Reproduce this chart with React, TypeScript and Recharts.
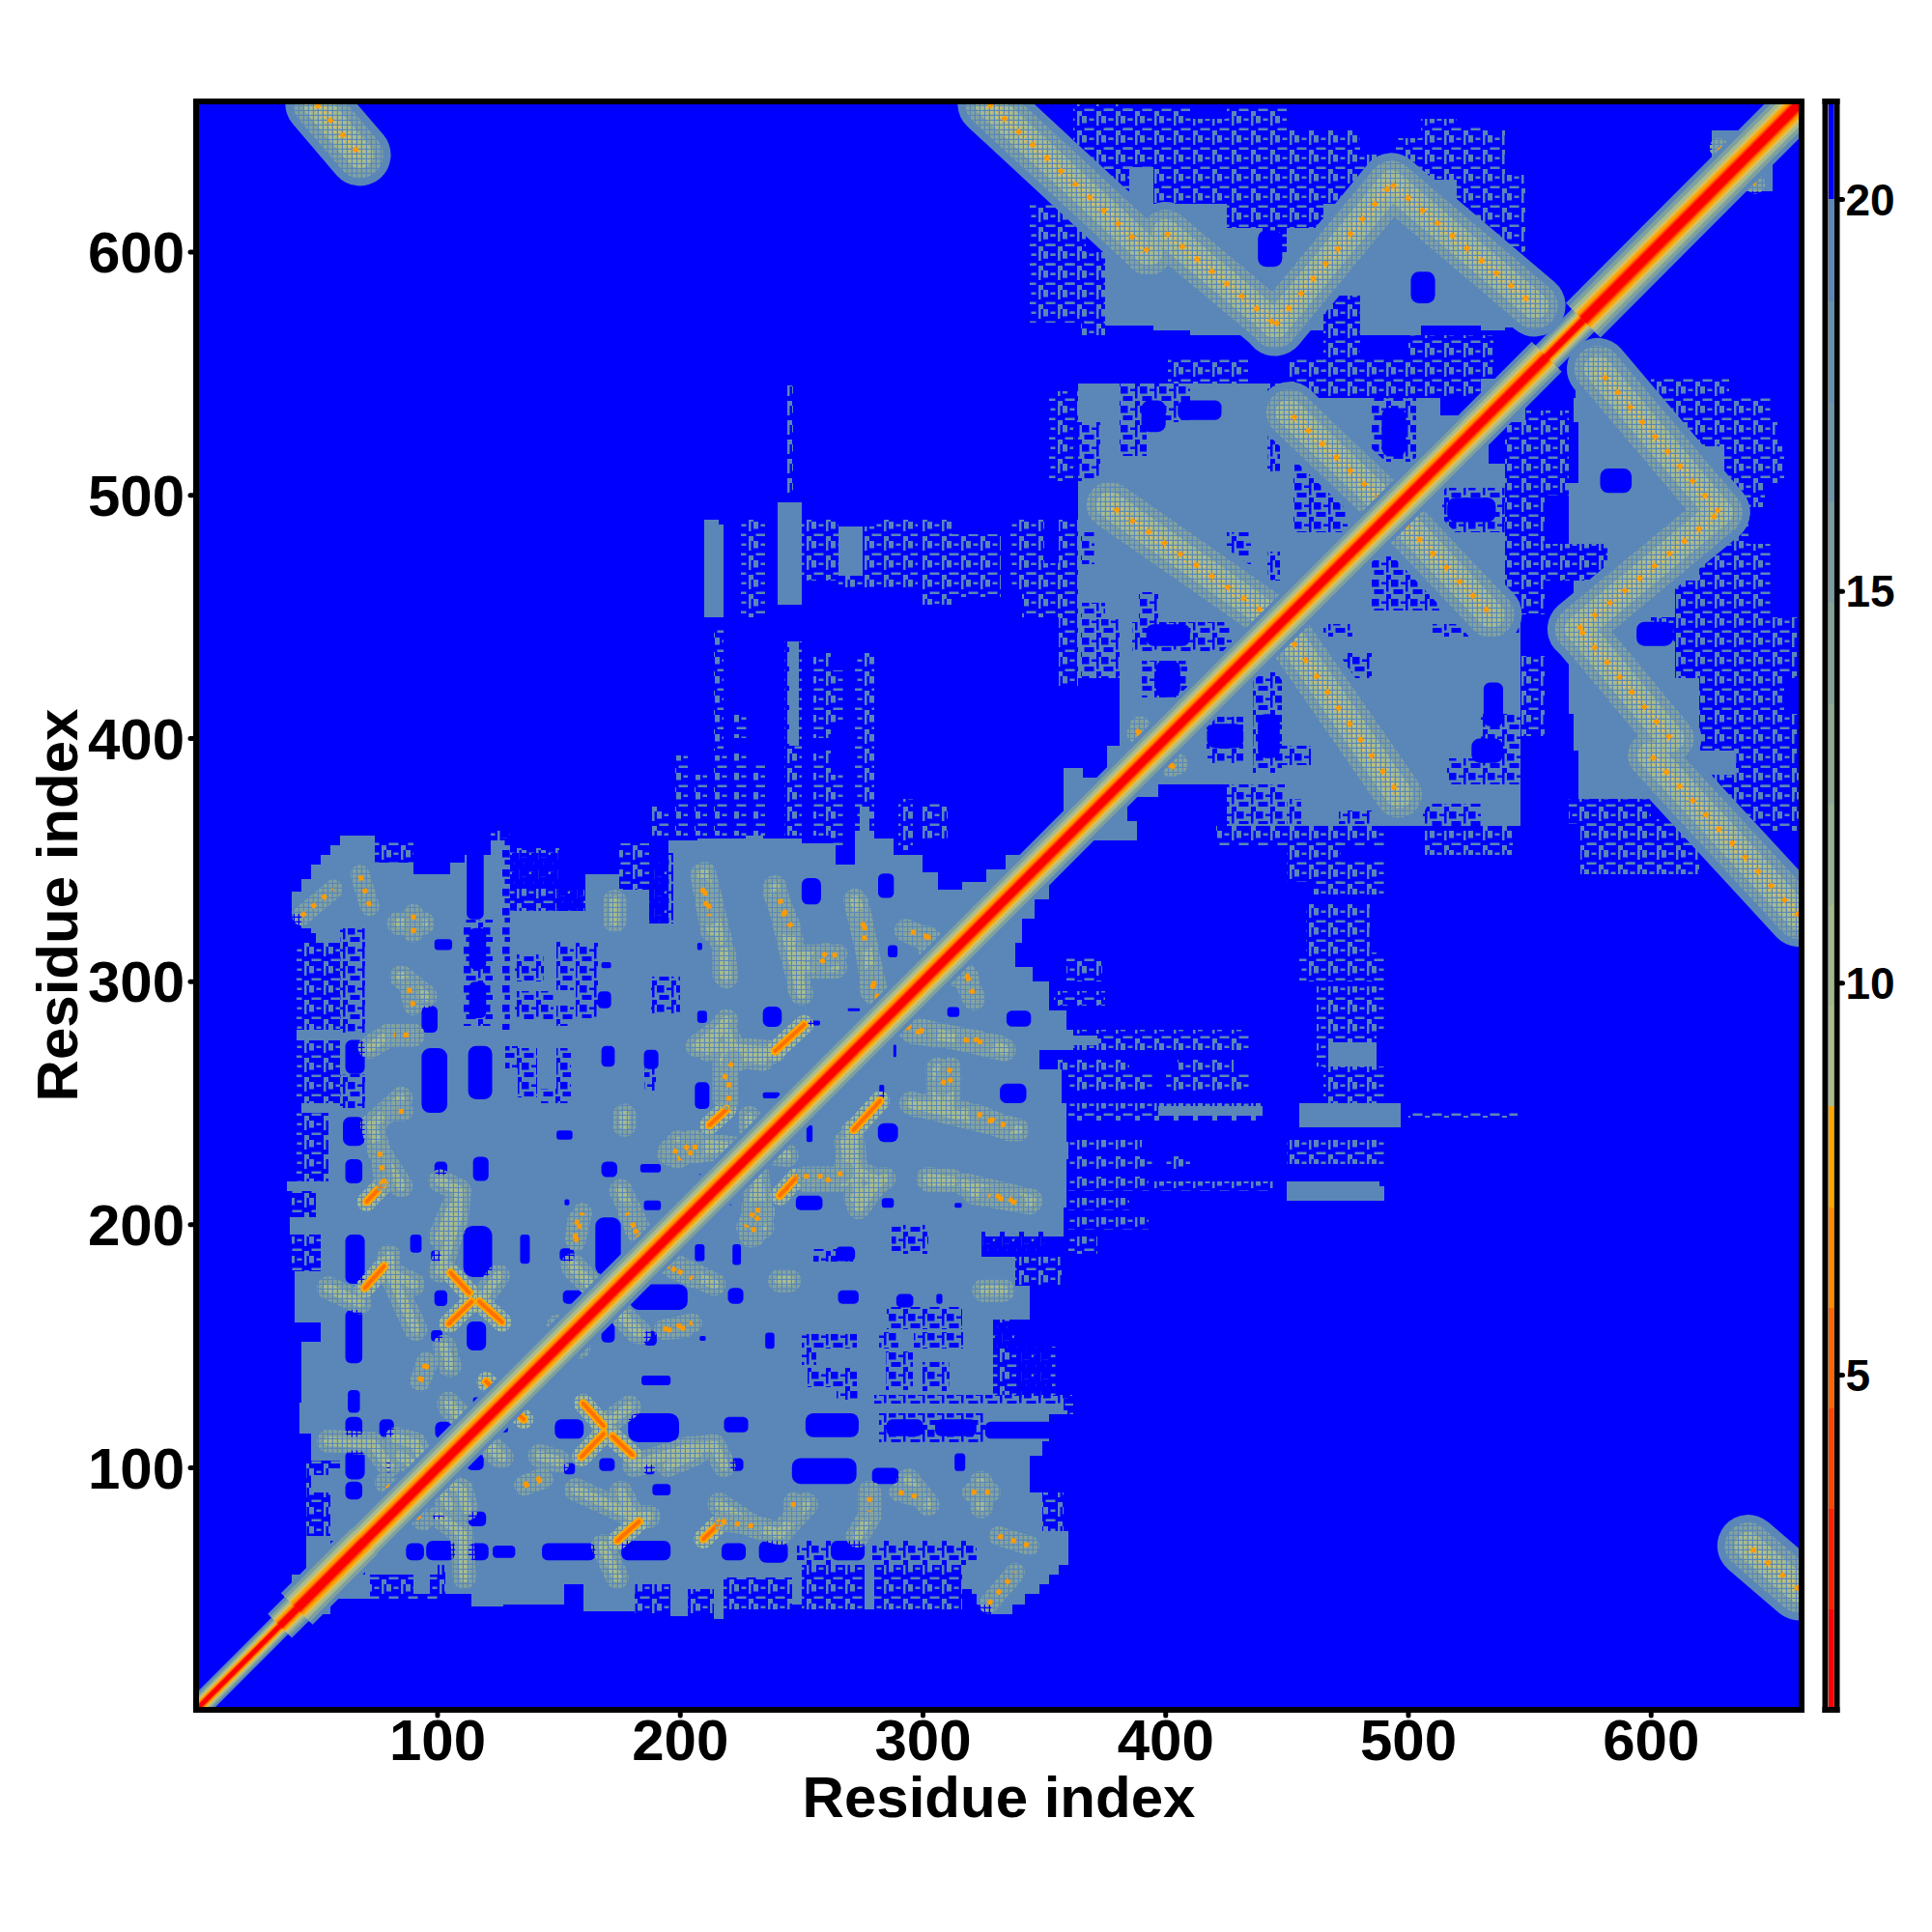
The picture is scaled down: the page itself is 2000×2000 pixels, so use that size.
import React from "react";
import { ScatterChart, Scatter, XAxis, YAxis } from "recharts";

// ---- axis labels and ticks ----
const axisTitle = "Residue index";
const residueTicks = [100, 200, 300, 400, 500, 600];
const residueDomain = [0.5, 662];
const scaleTicks = [5, 10, 15, 20];
const scaleDomain = [0.73, 21.25];

// ---- colour scale: one step per band, low distance first ----
const bandEdges = [0.73, 2.01, 3.29, 4.58, 5.86, 7.14, 8.43, 9.71, 11, 12.28, 13.56, 14.85, 16.13, 17.41, 18.7, 20, 21.25];
const bandColors = ["#ff0000", "#ff2200", "#ff4500", "#ff6600", "#ff8c00", "#ffa500", "#a9bd8c", "#a1b88c", "#98b28f", "#8eaa92", "#84a396", "#7a9c9e", "#6e94a8", "#6490b0", "#5a87b8", "#0000ff"];

// ---- contact map, lower-right triangle in residues: [x0, x1, y0, y1] ----
const solidRuns = [
  [45, 56, 40, 50], [50, 72, 46, 56], [70, 100, 56, 60], [90, 97, 48, 60], [103, 114, 48, 60], [114, 127, 43, 60], [127, 152, 44, 60],
  [152, 160, 52, 60], [160, 181, 41, 60], [181, 196, 52, 60], [196, 203, 39, 60], [203, 214, 50, 60], [214, 218, 38, 60], [218, 246, 55, 60],
  [246, 250, 44, 60], [276, 280, 42, 60], [316, 330, 50, 60],
  [328, 337, 40, 44], [322, 342, 44, 48], [320, 348, 48, 52], [318, 352, 52, 56], [316, 356, 56, 60], [322, 358, 60, 66], [320, 360, 66, 74],
  [60, 360, 60, 74], [70, 349, 74, 90], [88, 344, 90, 105], [100, 349, 105, 111], [106, 352, 111, 122], [118, 358, 122, 130],
  [125, 329, 130, 161], [155, 344, 161, 175], [170, 338, 175, 187], [180, 324, 187, 195], [190, 358, 195, 207],
  [205, 359, 207, 227], [225, 360, 227, 234], [232, 359, 234, 250], [248, 357, 250, 264], [262, 348, 264, 272], [270, 362, 272, 280],
  [278, 359, 280, 288], [286, 352, 288, 300], [298, 345, 300, 306], [304, 338, 306, 316], [314, 341, 316, 326], [324, 346, 326, 334], [332, 352, 334, 345],
  [365, 388, 358, 366], [365, 384, 366, 376], [376, 397, 376, 381], [381, 413, 381, 390], [390, 436, 390, 400],
  [425, 546, 364, 381], [381, 546, 381, 440], [440, 546, 440, 451], [451, 540, 451, 513], [513, 533, 513, 530], [530, 548, 530, 545],
  [571, 588, 548, 556], [569, 594, 540, 548], [568, 600, 530, 540], [570, 615, 520, 530], [570, 630, 505, 520], [566, 632, 495, 505],
  [566, 625, 480, 495], [582, 620, 465, 480], [568, 610, 450, 465], [568, 600, 440, 450], [566, 610, 425, 440], [566, 620, 410, 425],
  [568, 620, 395, 410], [570, 635, 385, 395], [570, 625, 375, 385], [630, 650, 625, 640],
  [455, 497, 240, 250], [450, 490, 210, 216], [467, 487, 265, 275], [397, 440, 245, 249], [450, 488, 216, 218], [360, 372, 274, 278],
];
const speckleRuns = [
  [72, 103, 46, 60], [181, 218, 40, 52], [218, 246, 42, 55], [250, 276, 42, 60], [280, 316, 42, 60],
  [329, 338, 129, 161], [338, 355, 129, 150], [338, 357, 175, 187], [324, 350, 187, 195], [349, 358, 74, 90], [352, 362, 122, 130],
  [359, 374, 300, 310], [354, 375, 290, 296], [360, 435, 272, 280], [355, 385, 262, 268], [405, 428, 262, 268], [360, 395, 255, 262], [400, 435, 255, 262],
  [360, 440, 243, 250], [360, 390, 230, 235], [360, 395, 222, 228], [400, 410, 222, 228], [360, 393, 214, 220], [395, 445, 214, 218], [360, 385, 206, 211],
  [360, 393, 198, 203], [360, 372, 188, 195],
  [458, 484, 312, 332], [455, 490, 300, 312], [462, 490, 280, 298], [462, 487, 265, 280], [465, 490, 250, 265], [450, 490, 225, 235], [500, 545, 244, 246.5],
  [450, 472, 341, 366], [461, 490, 336, 350], [506, 543, 352, 364], [421, 490, 356, 364], [540, 556, 451, 500], [540, 566, 500, 535], [546, 556, 401, 434],
  [600, 632, 540, 548], [600, 650, 530, 540], [615, 652, 520, 530], [630, 655, 505, 520], [632, 647, 495, 505], [625, 640, 480, 495], [542, 582, 465, 480],
  [620, 650, 465, 480], [610, 650, 450, 465], [600, 660, 440, 450], [610, 660, 425, 440], [620, 655, 410, 425], [620, 660, 395, 410], [635, 660, 385, 395],
  [625, 660, 375, 385], [566, 600, 365, 375], [574, 600, 355, 365], [590, 610, 345, 355], [571, 620, 344, 367], [630, 662, 362, 387],
];
const holes = [
  [206, 210, 185, 192], [221.5, 225, 183.5, 192], [264, 272, 185, 191], [179.4, 203, 165, 175.5], [219.6, 226, 167.5, 174], [265, 273.5, 167.5, 173],
  [289, 296, 166, 171.5], [305.5, 308, 167.5, 171.5], [185, 190.3, 150.3, 156.3], [167.5, 173, 151.6, 159.6], [208, 210.5, 152.3, 154.3], [235, 238.8, 149, 155.6],
  [184, 196, 134, 138], [178.5, 199.5, 110.6, 122.5], [218, 228, 114.6, 121], [251.6, 273.5, 112.6, 122.5], [148.3, 160.2, 112, 120], [126.4, 129, 114.6, 118.5],
  [152, 156.6, 97.3, 102], [166.6, 173, 98.7, 104], [185, 189.4, 97.3, 101.3], [220.5, 226, 98.7, 104], [246, 272.6, 93.4, 104], [279, 290, 93.4, 100],
  [313, 317.4, 98.7, 106], [188.5, 196, 88.7, 93.4], [112.7, 120, 76, 82], [98, 102.6, 79, 80.5], [112, 119, 99, 106], [285, 300, 113, 120], [305, 322, 113, 120], [325.6, 365, 112, 119],
  [87, 94.4, 62, 69], [95.3, 107.2, 62, 70], [112.7, 121, 62, 69], [122.7, 132, 63, 68], [143, 165, 62, 69], [175.7, 196, 62, 70], [217, 227, 62, 69],
  [232.4, 244.3, 61, 70], [262, 276, 62, 70],
  [331.7, 342.6, 250, 258], [281.4, 289.7, 234, 241.8], [252, 254.5, 234, 241], [334.4, 344.5, 281.5, 288], [310, 315, 285.5, 289.5], [282, 284, 252, 257.6],
  [287.8, 289, 269, 274], [247.6, 258.6, 206, 212], [283, 288, 207, 211], [220, 221, 208, 211], [313, 316, 207, 209],
  [417, 432, 396, 406], [438, 447, 392, 410], [526, 539, 390, 400], [531, 539, 405, 423],
  [516, 536, 489, 499], [579, 592, 501, 511], [594, 609, 438, 448],
];
const holeSpeckle = [
  [287, 302, 188, 200], [324, 353, 187, 197], [285, 316, 157, 166], [250, 272.6, 149, 155], [250, 256, 142.4, 149], [252.5, 272.6, 133, 141], [264.4, 273.5, 128, 133],
  [281.7, 290, 149, 156], [296.3, 316.4, 149, 156], [284.5, 296, 132, 147.7], [300, 311, 131.8, 143.7], [280, 364, 126.5, 130], [329, 353, 149, 160], [338.4, 353, 129, 149],
  [344, 365, 90, 105], [255, 271, 185, 190], [418.5, 449, 365, 381], [506, 530, 362, 373], [485, 512.7, 452.5, 475], [471.6, 485, 425, 435], [531, 556, 442, 451],
  [248, 262, 60, 70], [279, 322, 60, 70], [417, 432, 390, 409], [436, 448, 386, 427], [448, 460, 389, 397], [450, 456, 365, 375], [471.5, 485, 365, 370.5],
  [465, 477, 442, 447], [510, 524.6, 442, 447], [516, 546, 381, 392], [530, 546, 392, 410], [514, 540, 485, 503], [281.7, 325.6, 110.6, 122.5],
];

// ---- ridges of close residues: [x0, y0, x1, y1] ----
const strandRidges = [
  [327, 661, 393, 600], [400, 608, 445, 570.5], [445, 570, 493, 628], [493, 628, 552, 578], [448, 446, 496, 377], [493, 494, 534, 451], [50, 661, 68, 640],
];
const blockHalos = [
  [104.5, 126.5, 124.6, 105.3], [155.6, 183.5, 182, 156], [194, 185, 214, 175.5], [168, 117, 179, 125], [102.7, 150, 105, 142], [181, 101, 203, 108], [203, 108, 214, 109],
  [214, 109, 218, 101], [157, 91, 181, 80], [181, 80, 187, 80], [216, 85, 230, 76], [230, 76, 241, 73], [241, 73, 252, 85], [100.8, 80, 110, 73], [110, 73, 111, 55],
  [174, 55, 168, 68], [278, 90, 278, 80], [278, 80, 273, 72], [294, 95, 302, 85], [324, 94, 324, 84], [325, 173, 333, 173], [230, 207, 234, 199], [241, 177, 245, 177],
  [106, 207, 101, 195], [79, 181, 90, 175.5], [84.4, 105, 97, 97.4], [97, 97.4, 110, 90.7], [110, 90.7, 112, 83],
  [209, 344, 213, 321], [239, 336, 246, 317], [273, 332, 277, 313], [277, 313, 279, 296], [279, 296, 288, 288], [293, 321, 311, 313], [246, 310.6, 262, 310.6],
  [249, 309, 249, 297], [218, 312, 218, 303], [207, 273.5, 218, 281.5], [218, 281.5, 224, 268], [209, 273.5, 238.5, 271], [218, 268, 218, 252], [293, 281.5, 333.5, 272],
  [306, 264, 306, 251], [295, 250, 339, 239], [204, 234, 244, 228.5], [268, 234, 270, 219], [272, 211, 284, 219], [317, 216.6, 344.5, 210], [302, 219, 312, 218], [231, 214, 229, 195.4],
];
const strongContacts = [
  [160, 126.5, 168.4, 117.2], [172, 113, 180.3, 105.3], [168.4, 114, 159.3, 104.6], [127, 128, 135.5, 120], [174, 70, 183, 78], [209.5, 70.8, 217, 78],
  [271.4, 239, 282.3, 251], [241, 212, 247.6, 219.2],
];
const dottedContacts = [
  [92.6, 135.7, 95.3, 143.7], [193, 157, 205, 159.6], [135.5, 93, 143, 96], [157.5, 202, 156.6, 194], [181, 198, 185, 194], [194, 183.5, 205, 178], [230, 205, 227, 199],
  [217, 78, 230.6, 76], [278, 88, 278, 82], [290, 90, 298, 88], [320, 90, 328, 90], [246.6, 86, 246.6, 81], [327, 44, 338, 57], [331, 72, 344, 68],
  [308, 257.7, 311.6, 265], [330, 212, 337, 210], [322.5, 245.7, 333.5, 241], [317, 276, 326, 275], [293, 281.5, 302.5, 279], [302, 313, 308, 308], [312, 304, 319, 302],
  [295, 320.6, 303.3, 318], [276, 323, 276, 317], [209, 338.5, 212, 327], [241, 334, 244, 323], [260, 312, 257, 308], [279, 299, 283, 288], [218, 260, 222, 268],
  [202, 231, 205, 235], [251, 220, 262, 220], [231, 206, 235, 206], [230, 199, 231, 195], [84, 92, 92, 85], [95, 102, 103, 96], [83, 88, 94, 78], [149, 159, 152, 153], [153, 150, 159, 150],
  [401, 389, 405, 389], [388, 402, 390, 405], [637, 632, 643, 628],
];
// ---- the main diagonal: [first residue, last residue, relative width] ----
const diagonalSpans = [[1, 35, 0.55], [35, 42, 0.8], [42, 70, 1.05], [70, 557, 1], [557, 572, 0.75], [572, 662, 1.15]];
const diagonalColors = ["#5a87b8", "#7fa09f", "#a5bb90", "#d9bf60", "#ffa500", "#ff8c00", "#ff4500", "#ff0000"];
const diagonalWidths = [44, 36, 29, 23, 18, 14, 11, 8];

// ---- layout ----
const FONT = '"Liberation Sans", Arial, sans-serif';
const LEFT = 203, RIGHT = 1865, TOP = 105, BOTTOM = 1770;
const PX = (RIGHT - LEFT) / (residueDomain[1] - residueDomain[0]);
const PY = (BOTTOM - TOP) / (residueDomain[1] - residueDomain[0]);
const BAR_LEFT = 1889.5, BAR_RIGHT = 1901.5;
const BAR_PY = (BOTTOM - TOP) / (scaleDomain[1] - scaleDomain[0]);

const boxes = (list: number[][]) =>
  list.flatMap(([a, b, c, d]) => [
    { x: (a + b) / 2, y: (c + d) / 2, w: b - a, h: d - c },
    { x: (c + d) / 2, y: (a + b) / 2, w: d - c, h: b - a },
  ]);
const segments = (list: number[][]) =>
  list.flatMap(([a, b, c, d]) => [
    { x: (a + c) / 2, y: (b + d) / 2, dx: c - a, dy: d - b, k: 1 },
    { x: (b + d) / 2, y: (a + c) / 2, dx: d - b, dy: c - a, k: 1 },
  ]);
const diagonal = diagonalSpans.map(([a, b, k]) => ({ x: (a + b) / 2, y: (a + b) / 2, dx: b - a, dy: b - a, k }));

const boxShape = (fill: string, round = false) => (p: any) => {
  const w = p.payload.w * PX, h = p.payload.h * PY;
  return <rect x={p.cx - w / 2} y={p.cy - h / 2} width={w} height={h} fill={fill} rx={round ? Math.min(w, h) / 3 : 0} shapeRendering={round ? undefined : "crispEdges"} clipPath="url(#plotClip)" />;
};
const lineShape = (stroke: string, width: number, dash?: string, cap: any = "butt") => (p: any) => {
  const d = p.payload;
  return <line x1={p.cx - (d.dx * PX) / 2} y1={p.cy + (d.dy * PY) / 2} x2={p.cx + (d.dx * PX) / 2} y2={p.cy - (d.dy * PY) / 2} stroke={stroke} strokeWidth={width * d.k} strokeDasharray={dash} strokeLinecap={cap} clipPath="url(#plotClip)" />;
};
const bandShape = (p: any) => {
  const d = p.payload;
  return <rect x={BAR_LEFT + 3} y={p.cy - (d.h * BAR_PY) / 2} width={BAR_RIGHT - BAR_LEFT - 6} height={d.h * BAR_PY} fill={d.color} shapeRendering="crispEdges" clipPath="url(#barClip)" />;
};

const layers: [string, any[], any][] = [
  ["speckle", boxes(speckleRuns), boxShape("url(#steelSpeckle)")],
  ["solid", boxes(solidRuns), boxShape("#5a87b8")],
  ["holes", boxes(holes), boxShape("#0000ff", true)],
  ["holeSpeckle", boxes(holeSpeckle), boxShape("url(#blueSpeckle)")],
  ["strand0", segments(strandRidges), lineShape("#5a87b8", 64, undefined, "round")],
  ["strand1", segments(strandRidges), lineShape("url(#gridSoft)", 48, undefined, "round")],
  ["strand2", segments(strandRidges), lineShape("url(#gridGreen)", 28, undefined, "round")],
  ["strand3", segments(strandRidges), lineShape("url(#gridTan)", 11)],
  ["strand4", segments(strandRidges), lineShape("#ff9a00", 5, "5 15")],
  ["halo0", segments(blockHalos), lineShape("url(#gridSoft)", 24, undefined, "round")],
  ["halo1", segments(blockHalos), lineShape("url(#gridGreen)", 10, undefined, "round")],
  ["strong0", segments(strongContacts), lineShape("url(#gridGreen)", 20, undefined, "round")],
  ["strong1", segments(strongContacts), lineShape("#ffa500", 9, undefined, "round")],
  ["strong2", segments(strongContacts), lineShape("#ff7000", 4, undefined, "round")],
  ["dot0", segments(dottedContacts), lineShape("url(#gridSoft)", 20, undefined, "round")],
  ["dot1", segments(dottedContacts), lineShape("#ff9a00", 5, "5 9")],
  ...diagonalColors.map((c, i): [string, any[], any] => ["diag" + i, diagonal, lineShape(c, diagonalWidths[i])]),
];

const colorBands = bandColors.map((color, i) => ({ x: 0.5, y: (bandEdges[i] + bandEdges[i + 1]) / 2, h: bandEdges[i + 1] - bandEdges[i], color }));

const tickFont = { fill: "#000", fontSize: 60, fontWeight: 700, fontFamily: FONT };
const frame = { stroke: "#000", strokeWidth: 6, strokeLinecap: "square" as const };
const tickMark = { stroke: "#000", strokeWidth: 5, strokeLinecap: "round" as const };

const xTitle = () => <text x={1034} y={1881} textAnchor="middle" fontSize={60} fontWeight={700} fontFamily={FONT} fill="#000">{axisTitle}</text>;
const yTitle = () => <text x={80} y={937} transform="rotate(-90 80 937)" textAnchor="middle" fontSize={60} fontWeight={700} fontFamily={FONT} fill="#000">{axisTitle}</text>;

const gridTile = (id: string, color: string, size: number) => (
  <pattern id={id} width={5} height={5} patternUnits="userSpaceOnUse">
    <rect x={0} y={0} width={size} height={size} fill={color} />
  </pattern>
);

export default function App() {
  return (
    <div style={{ position: "absolute", left: 0, top: 0, width: 2000, height: 2000, background: "#fff" }}>
      <div style={{ position: "absolute", left: 0, top: 0 }}>
        <ScatterChart width={2000} height={2000} margin={{ left: LEFT - 100, right: 2000 - RIGHT - 20, top: TOP - 20, bottom: 2000 - BOTTOM - 60 }}>
          <defs>
            <clipPath id="plotClip"><rect x={LEFT + 3} y={TOP + 3} width={RIGHT - LEFT - 6} height={BOTTOM - TOP - 6} /></clipPath>
            <pattern id="steelSpeckle" width={20} height={20} patternUnits="userSpaceOnUse">
              <rect x={0} y={0} width={5} height={7.5} fill="#5a87b8" />
              <rect x={7.5} y={2.5} width={5} height={2.5} fill="#5a87b8" />
              <rect x={15} y={0} width={2.5} height={10} fill="#5a87b8" />
              <rect x={2.5} y={12.5} width={10} height={2.5} fill="#5a87b8" />
              <rect x={15} y={15} width={5} height={5} fill="#5a87b8" />
            </pattern>
            <pattern id="blueSpeckle" width={20} height={20} patternUnits="userSpaceOnUse">
              <rect x={0} y={0} width={7.5} height={7.5} fill="#0000ff" />
              <rect x={10} y={2.5} width={5} height={2.5} fill="#0000ff" />
              <rect x={15} y={0} width={2.5} height={12.5} fill="#0000ff" />
              <rect x={2.5} y={10} width={10} height={5} fill="#0000ff" />
              <rect x={15} y={15} width={5} height={5} fill="#0000ff" />
            </pattern>
            {gridTile("gridSoft", "#83a39f", 3.75)}
            {gridTile("gridGreen", "#a7bc8e", 3.75)}
            {gridTile("gridTan", "#d9bf60", 2.5)}
          </defs>
          <rect x={LEFT} y={TOP} width={RIGHT - LEFT} height={BOTTOM - TOP} fill="#0000ff" />
          {layers.map(([name, data, shape]) => (
            <Scatter key={name} name={name} data={data} shape={shape} isAnimationActive={false} xAxisId="bottom" yAxisId="left" />
          ))}
          <XAxis xAxisId="bottom" type="number" dataKey="x" domain={residueDomain} ticks={residueTicks} height={60} allowDataOverflow interval={0}
            axisLine={frame} tickLine={tickMark} tickSize={6} tick={tickFont} tickMargin={3} label={{ content: xTitle }} />
          <XAxis xAxisId="top" orientation="top" type="number" dataKey="x" domain={residueDomain} ticks={residueTicks} height={20} allowDataOverflow interval={0}
            axisLine={frame} tickLine={tickMark} tickSize={6} tick={false} />
          <YAxis yAxisId="left" type="number" dataKey="y" domain={residueDomain} ticks={residueTicks} width={100} allowDataOverflow interval={0}
            axisLine={frame} tickLine={tickMark} tickSize={6} tick={tickFont} tickMargin={6} label={{ content: yTitle }} />
          <YAxis yAxisId="right" orientation="right" type="number" dataKey="y" domain={residueDomain} ticks={residueTicks} width={20} allowDataOverflow interval={0}
            axisLine={frame} tickLine={tickMark} tickSize={6} tick={false} />
        </ScatterChart>
      </div>
      <div style={{ position: "absolute", left: 0, top: 0 }}>
        <ScatterChart width={2000} height={2000} margin={{ left: BAR_LEFT - 1, right: 2000 - BAR_RIGHT - 70, top: TOP - 1, bottom: 2000 - BOTTOM - 1 }} style={{ pointerEvents: "none" }}>
          <defs>
            <clipPath id="barClip"><rect x={BAR_LEFT + 3} y={TOP + 3} width={BAR_RIGHT - BAR_LEFT - 6} height={BOTTOM - TOP - 6} /></clipPath>
          </defs>
          <Scatter name="scale" data={colorBands} shape={bandShape} isAnimationActive={false} />
          <XAxis type="number" dataKey="x" domain={[0, 1]} height={1} axisLine={frame} tick={false} tickLine={false} />
          <XAxis xAxisId="barTop" orientation="top" type="number" dataKey="x" domain={[0, 1]} height={1} axisLine={frame} tick={false} tickLine={false} />
          <YAxis yAxisId="barLeft" type="number" dataKey="y" domain={scaleDomain} width={1} axisLine={frame} tick={false} tickLine={false} />
          <YAxis orientation="right" type="number" dataKey="y" domain={scaleDomain} ticks={scaleTicks} width={70} interval={0} axisLine={frame} tickLine={tickMark} tickSize={6}
            tick={{ fill: "#000", fontSize: 46, fontWeight: 700, fontFamily: FONT }} tickMargin={3} />
        </ScatterChart>
      </div>
    </div>
  );
}
